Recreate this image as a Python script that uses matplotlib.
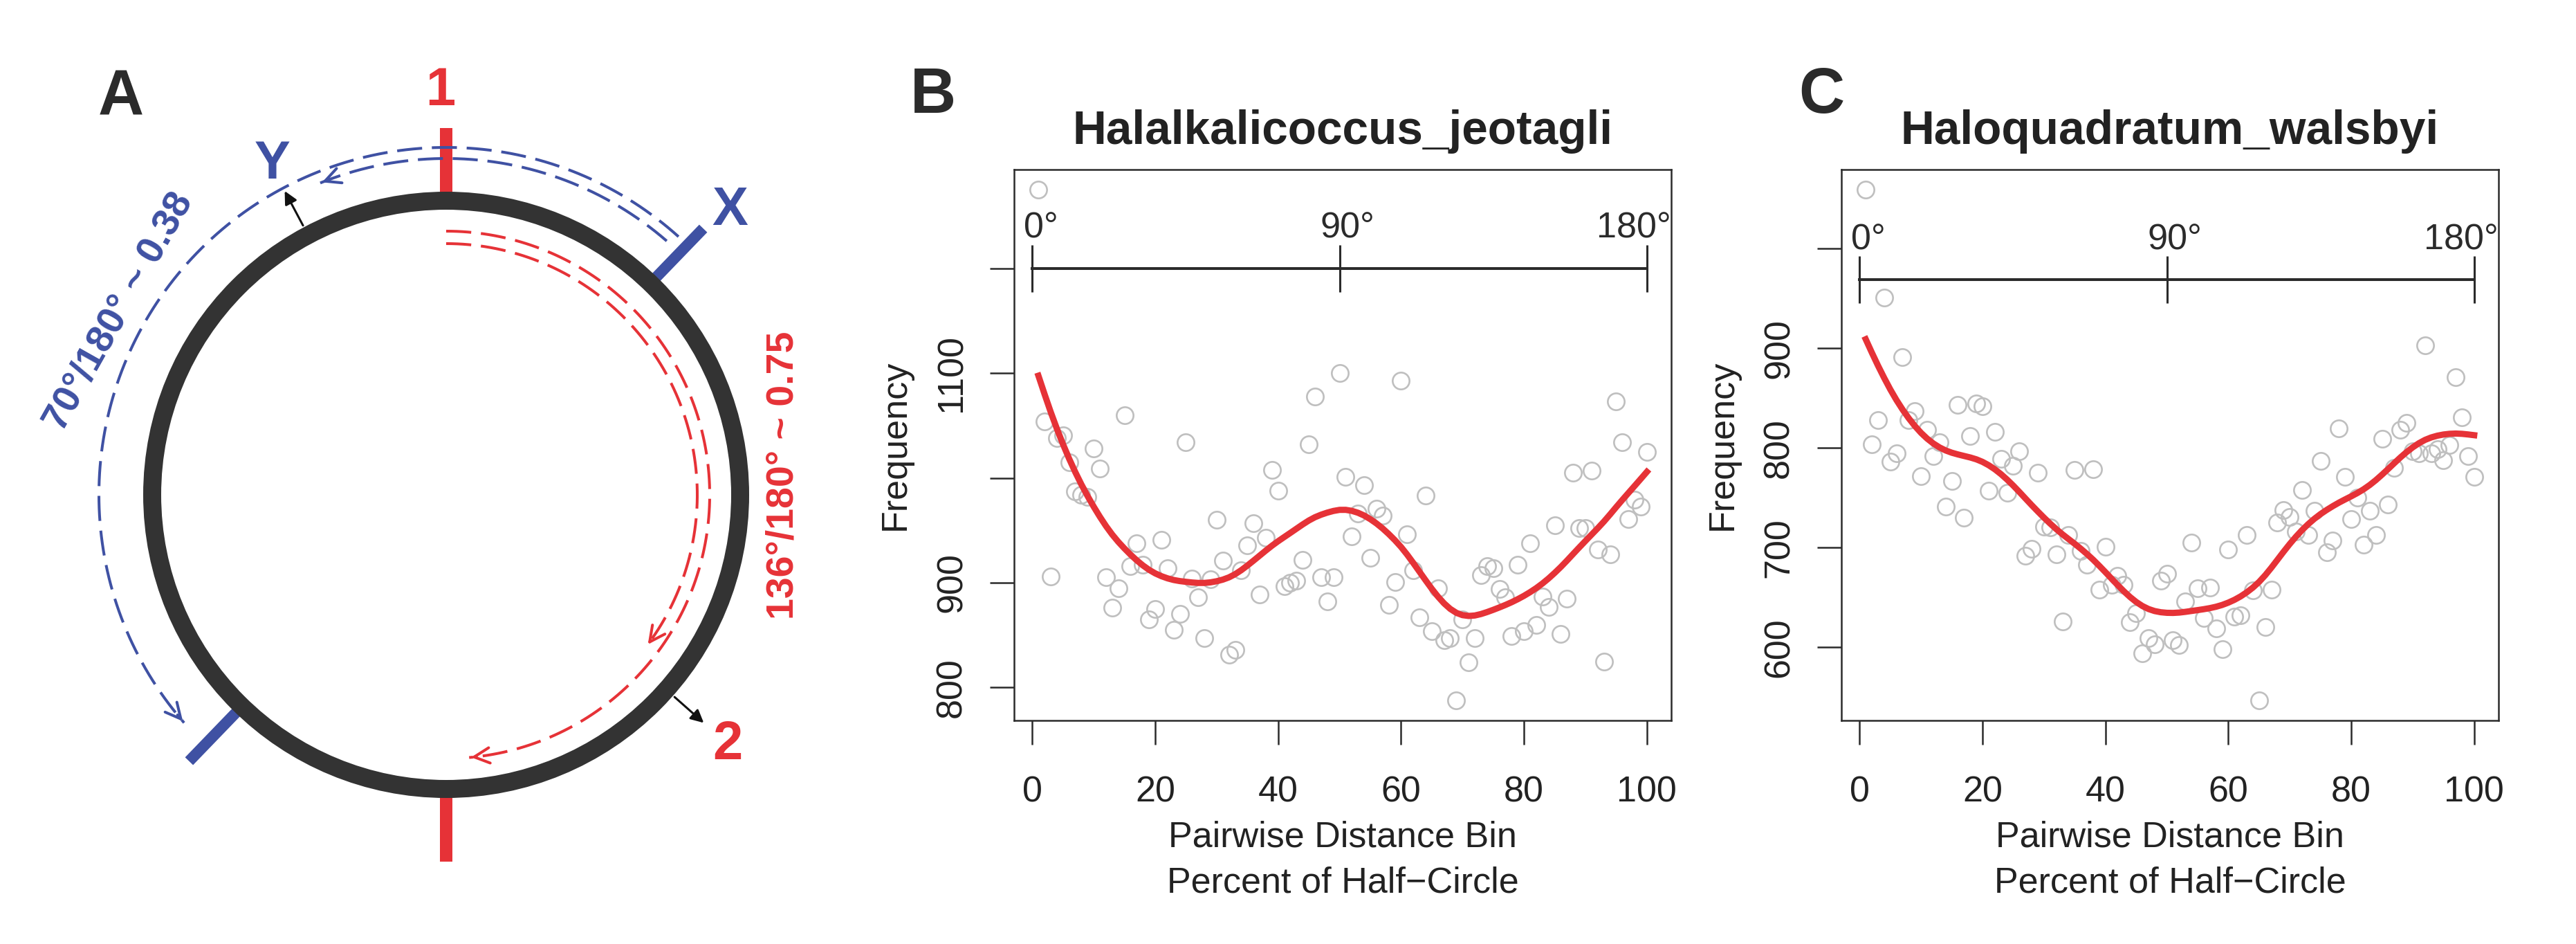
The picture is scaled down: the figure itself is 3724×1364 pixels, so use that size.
import numpy as np
import matplotlib
import matplotlib.pyplot as plt
from matplotlib.patches import Circle, FancyArrowPatch
from matplotlib.transforms import ScaledTranslation
matplotlib.use('Agg')

plt.rcParams['font.family'] = ['Liberation Sans', 'DejaVu Sans']

# ---- data ----
bins = np.arange(1, 101)

# Halalkalicoccus_jeotagli, frequency per distance bin
freq_b = np.array([
    1275, 1054, 906, 1038, 1041, 1015, 987, 984, 982, 1028,
    1009, 905, 876, 895, 1060, 916, 938, 917, 865, 875,
    941, 914, 855, 870, 1034, 904, 886, 847, 903, 960,
    921, 831, 836, 912, 936, 957, 889, 943, 1008, 988,
    897, 900, 902, 922, 1032, 1078, 905, 882, 905, 1100,
    1001, 944, 966, 993, 924, 971, 964, 879, 901, 1093,
    946, 912, 867, 983, 854, 895, 845, 847, 788, 865,
    824, 847, 907, 916, 914, 894, 886, 849, 917, 854,
    938, 860, 887, 877, 955, 851, 885, 1005, 952, 952,
    1007, 932, 825, 927, 1073, 1034, 961, 979, 973, 1025])

# Haloquadratum_walsbyi
freq_c = np.array([
    1059, 804, 828, 951, 786, 795, 891, 828, 837, 772,
    818, 792, 806, 741, 767, 843, 730, 812, 845, 842,
    757, 816, 789, 755, 782, 797, 692, 699, 775, 721,
    720, 693, 626, 713, 778, 697, 683, 779, 658, 701,
    663, 672, 663, 625, 634, 594, 609, 603, 667, 674,
    607, 602, 646, 705, 659, 629, 660, 619, 598, 698,
    631, 632, 713, 657, 547, 620, 658, 725, 738, 731,
    716, 758, 713, 737, 787, 695, 707, 820, 771, 729,
    750, 703, 737, 713, 809, 743, 780, 818, 825, 797,
    795, 903, 795, 799, 788, 803, 871, 831, 792, 771])

x_ticks = [0, 20, 40, 60, 80, 100]
yticks_b = [800, 900, 1000, 1100, 1200]
ylabels_b = ['800', '900', '', '1100', '']
yticks_c = [600, 700, 800, 900, 1000]
ylabels_c = ['600', '700', '800', '900', '']

deg_pos = [0, 50, 100]
deg_labels = ['0\u00b0', '90\u00b0', '180\u00b0']
deg_label_x = [1.45, 51.3, 97.9]

# circle diagram (angles in degrees, 0 = east, counter-clockwise)
point1_ang, point2_ang = 90, -41.5
x_ang, y_ang = 46, 118

RED = '#e63237'
BLUE = '#3f51a3'
DARK = '#2b2b2b'
GREY = '#bfbfbf'

W, H, DPI = 3724, 1364, 100
PT = 72 / DPI


def fx(px):
    return px / W


def fy(py):
    return 1 - py / H


def smooth(y, lam):
    # penalised (second difference) smoother, close to a smoothing spline
    n = len(y)
    D = np.diff(np.eye(n), 2, axis=0)
    return np.linalg.solve(np.eye(n) + lam * D.T @ D, y)


fig = plt.figure(figsize=(W / DPI, H / DPI), dpi=DPI)


def draw_panel(box, y, title, letter, letter_px, yticks, ylabels, bar_y, lam):
    l, t, r, b = box
    ax = fig.add_axes([fx(l), fy(b), fx(r) - fx(l), fy(t) - fy(b)])
    x = bins.astype(float)
    ax.plot(x, y, 'o', mfc='none', mec=GREY, ms=17.5, mew=1.9, zorder=2)
    ax.plot(x, smooth(y.astype(float), lam), color=RED, lw=6.5, zorder=3)

    # R-style 4% padding
    xpad = 0.04 * (x.max() - x.min())
    ypad = 0.04 * (y.max() - y.min())
    ax.set_xlim(x.min() - xpad, x.max() + xpad)
    ax.set_ylim(y.min() - ypad, y.max() + ypad)

    # half-circle degree scale
    ax.plot(deg_pos, [bar_y] * 3, color=DARK, lw=2.9, marker='|', ms=49,
            mew=2.2, zorder=4)
    off = ScaledTranslation(0, 44 * PT / 72, fig.dpi_scale_trans)
    for xl, s in zip(deg_label_x, deg_labels):
        ax.text(xl, bar_y, s, transform=ax.transData + off, ha='center',
                va='baseline', fontsize=37.5, color=DARK, clip_on=True)

    for sp in ax.spines.values():
        sp.set_linewidth(1.8)
        sp.set_color(DARK)
    ax.set_xticks(x_ticks)
    ax.set_xticklabels([str(v) for v in x_ticks])
    ax.set_yticks(yticks)
    ax.set_yticklabels(ylabels, rotation=90, va='center')
    ax.tick_params(axis='both', length=25, width=1.8, color=DARK,
                   labelsize=37.5, labelcolor='#222222')
    ax.tick_params(axis='x', pad=32)
    ax.tick_params(axis='y', pad=22)

    cx = (l + r) / 2
    fig.text(fx(cx), fy(208), title, ha='center', va='baseline',
             fontsize=48.7, fontweight='bold', color='#222222')
    fig.text(fx(letter_px), fy(163), letter, ha='left', va='baseline',
             fontsize=66, fontweight='bold', color=DARK)
    fig.text(fx(l - 158), fy((t + b) / 2), 'Frequency', rotation=90,
             rotation_mode='anchor', ha='center', va='baseline',
             fontsize=37.5, color='#222222')
    fig.text(fx(cx), fy(1224), 'Pairwise Distance Bin', ha='center',
             va='baseline', fontsize=37.5, color='#222222')
    fig.text(fx(cx), fy(1290), 'Percent of Half\u2212Circle', ha='center',
             va='baseline', fontsize=37.5, color='#222222')
    return ax


draw_panel((1466, 245, 2416, 1041), freq_b, 'Halalkalicoccus_jeotagli', 'B',
           1316, yticks_b, ylabels_b, 1200, 300)
draw_panel((2662, 245, 3612, 1041), freq_c, 'Haloquadratum_walsbyi', 'C',
           2600, yticks_c, ylabels_c, 969, 300)

# ---- panel A: circle schematic ----
ax0 = fig.add_axes([0, 0, fx(1240), 1])
ax0.set_xlim(-645, 595)
ax0.set_ylim(-649, 715)
ax0.axis('off')

R0 = 425


def polar(r, a):
    a = np.radians(a)
    return r * np.cos(a), r * np.sin(a)


def radial(a, r0, r1, color, lw):
    p0, p1 = polar(r0, a), polar(r1, a)
    ax0.plot([p0[0], p1[0]], [p0[1], p1[1]], color=color, lw=lw,
             solid_capstyle='butt', zorder=1)


def dashed_arc(r, a0, a1, color):
    th = np.linspace(a0, a1, 300)
    px, py = polar(r, th)
    ax0.plot(px, py, color=color, lw=2.9, dashes=(9, 3.5), zorder=2)
    step = 2 if a1 > a0 else -2
    ax0.add_patch(FancyArrowPatch(polar(r, a1 - step), polar(r, a1),
                                  arrowstyle='->', mutation_scale=40,
                                  color=color, lw=2.9, zorder=2))


for a in (point1_ang, point1_ang + 180):
    radial(a, R0, 530, RED, 18 * PT)
for a in (x_ang, x_ang + 180):
    radial(a, R0, 535, BLUE, 16 * PT)

ax0.add_patch(Circle((0, 0), R0, fill=False, ec='#333333', lw=26 * PT,
                     zorder=3))

dashed_arc(502, x_ang + 2, x_ang + 175, BLUE)
dashed_arc(486, x_ang + 3, y_ang - 6, BLUE)
dashed_arc(363, point1_ang, point2_ang + 4.5, RED)
dashed_arc(381, point1_ang, point1_ang - 175, RED)

for a in (y_ang, point2_ang):
    ax0.add_patch(FancyArrowPatch(polar(438, a), polar(500, a),
                                  arrowstyle='-|>', mutation_scale=28,
                                  color='#111111', lw=2.2, zorder=4))

for s, (r, a), c in [('1', (584, 90.8), RED), ('2', (544, -41.6), RED),
                     ('X', (580, 45), BLUE), ('Y', (540, 117.8), BLUE)]:
    px, py = polar(r, a)
    ax0.text(px, py, s, ha='center', va='center', fontsize=56,
             fontweight='bold', color=c)

ax0.text(-503, 550, 'A', ha='left', va='baseline', fontsize=66,
         fontweight='bold', color=DARK)
ax0.text(-473, 265, '70\u00b0/180\u00b0 ~ 0.38', rotation=60.6,
         rotation_mode='anchor', ha='center', va='center', fontsize=40,
         fontweight='bold', color=BLUE)
ax0.text(488, 28, '136\u00b0/180\u00b0 ~ 0.75', rotation=90,
         rotation_mode='anchor', ha='center', va='center', fontsize=40,
         fontweight='bold', color=RED)

fig.savefig('out.png', dpi=DPI)
